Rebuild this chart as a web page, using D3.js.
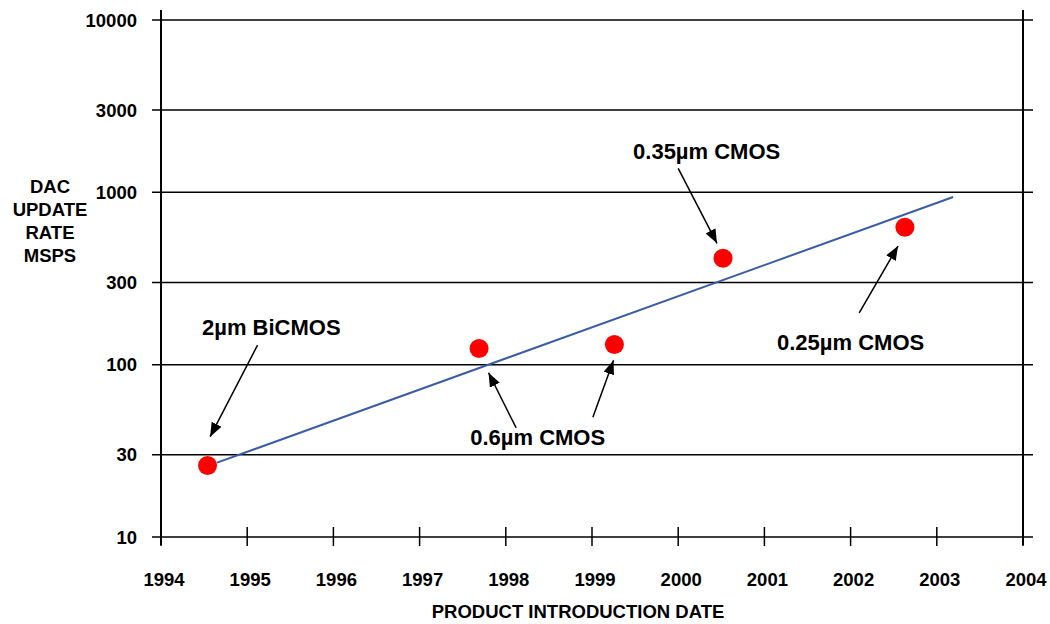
<!DOCTYPE html>
<html>
<head>
<meta charset="utf-8">
<script src="https://cdn.jsdelivr.net/npm/d3@7"></script>
<style>
  body { margin: 0; background: #fff; }
  svg { display: block; font-family: "Liberation Sans", Arial, Helvetica, sans-serif; font-weight: bold; }
</style>
</head>
<body>
<script>
// data
var years = [1994.54, 1997.69, 1999.26, 2000.52, 2002.63];
var rates = [26, 124, 131, 414, 627];
var trendYears = [1994.65, 2003.19];
var trendRates = [27, 940];
var xTicks = [1994, 1995, 1996, 1997, 1998, 1999, 2000, 2001, 2002, 2003, 2004];
var yTicks = [10, 30, 100, 300, 1000, 3000, 10000];

// annotations: label position and arrows (from -> to) in data units
var labels = ["2\u00b5m BiCMOS", "0.6\u00b5m CMOS", "0.35\u00b5m CMOS", "0.25\u00b5m CMOS"];
var labelYears = [1995.28, 1998.37, 2000.33, 2002.0];
var labelRates = [165, 37.8, 1743, 136];
var arrowFrom = [[1995.12, 130], [1998.12, 43], [1999.01, 49.5], [2000.0, 1378], [2002.10, 200]];
var arrowTo = [[1994.57, 38.2], [1997.80, 89.8], [1999.25, 106], [2000.45, 506], [2002.55, 488]];

var margin = {top: 20, right: 27, bottom: 87, left: 161},
width = 1050 - margin.left - margin.right,
height = 624 - margin.top - margin.bottom;

var x = d3.scaleLinear().domain([1994, 2004]).range([0, width]);
var y = d3.scaleLog().domain([10, 10000]).range([height, 0]);

var svg = d3.select("body")
.append("svg")
.attr("width", 1050)
.attr("height", 624)
.append("g")
.attr("transform", "translate(" + margin.left + "," + margin.top + ")");

// horizontal gridlines (crossing both vertical axes)
svg.append("g")
.selectAll("line")
.data(yTicks)
.enter().append("line")
.attr("x1", -9)
.attr("x2", width + 10)
.attr("y1", function(d) { return y(d); })
.attr("y2", function(d) { return y(d); })
.attr("stroke", "#000")
.attr("stroke-width", 1.5);

// y tick labels
svg.append("g")
.attr("font-size", 18.5)
.attr("text-anchor", "end")
.selectAll("text")
.data(yTicks)
.enter().append("text")
.attr("x", -24)
.attr("y", function(d) { return y(d); })
.attr("dy", "0.36em")
.text(function(d) { return d; });

// left and right vertical lines
svg.append("g")
.selectAll("line")
.data([1994, 2004])
.enter().append("line")
.attr("x1", function(d) { return x(d); })
.attr("x2", function(d) { return x(d); })
.attr("y1", -10)
.attr("y2", height + 8)
.attr("stroke", "#000")
.attr("stroke-width", 2);

// x ticks crossing the bottom axis
svg.append("g")
.selectAll("line")
.data(xTicks)
.enter().append("line")
.attr("x1", function(d) { return x(d); })
.attr("x2", function(d) { return x(d); })
.attr("y1", height - 10)
.attr("y2", height + 9)
.attr("stroke", "#000")
.attr("stroke-width", 1.5);

svg.append("g")
.attr("font-size", 18.5)
.attr("text-anchor", "middle")
.selectAll("text")
.data(xTicks)
.enter().append("text")
.attr("x", function(d) { return x(d) + 3; })
.attr("y", height + 49)
.text(function(d) { return d; });

// axis titles
svg.append("text")
.attr("x", 578 - margin.left)
.attr("y", height + 81)
.attr("font-size", 18.5)
.attr("text-anchor", "middle")
.text("PRODUCT INTRODUCTION DATE");

svg.append("text")
.attr("font-size", 18.5)
.attr("text-anchor", "middle")
.selectAll("tspan")
.data(["DAC", "UPDATE", "RATE", "MSPS"])
.enter().append("tspan")
.attr("x", 50 - margin.left)
.attr("y", function(d, i) { return 193 - margin.top + i * 23; })
.text(function(d) { return d; });

// trend line
var line = d3.line()
.x(function(d) { return x(d[0]); })
.y(function(d) { return y(d[1]); });

svg.append("path")
.datum(d3.zip(trendYears, trendRates))
.attr("d", line)
.attr("fill", "none")
.attr("stroke", "#3a5ca5")
.attr("stroke-width", 2);

// points
svg.append("g")
.selectAll("circle")
.data(d3.zip(years, rates))
.enter().append("circle")
.attr("cx", function(d) { return x(d[0]); })
.attr("cy", function(d) { return y(d[1]); })
.attr("r", 9.5)
.attr("fill", "#ff0000");

// arrows
svg.append("defs").append("marker")
.attr("id", "head")
.attr("markerUnits", "userSpaceOnUse")
.attr("markerWidth", 15)
.attr("markerHeight", 12)
.attr("refX", 14)
.attr("refY", 5.5)
.attr("orient", "auto")
.append("path")
.attr("d", "M0,0L14,5.5L0,11Z")
.attr("fill", "#000");

svg.append("g")
.selectAll("line")
.data(d3.zip(arrowFrom, arrowTo))
.enter().append("line")
.attr("x1", function(d) { return x(d[0][0]); })
.attr("y1", function(d) { return y(d[0][1]); })
.attr("x2", function(d) { return x(d[1][0]); })
.attr("y2", function(d) { return y(d[1][1]); })
.attr("stroke", "#000")
.attr("stroke-width", 1.5)
.attr("marker-end", "url(#head)");

svg.append("g")
.attr("font-size", 22)
.attr("text-anchor", "middle")
.selectAll("text")
.data(labels)
.enter().append("text")
.attr("x", function(d, i) { return x(labelYears[i]); })
.attr("y", function(d, i) { return y(labelRates[i]); })
.attr("dy", "0.36em")
.text(function(d) { return d; });
</script>
</body>
</html>
